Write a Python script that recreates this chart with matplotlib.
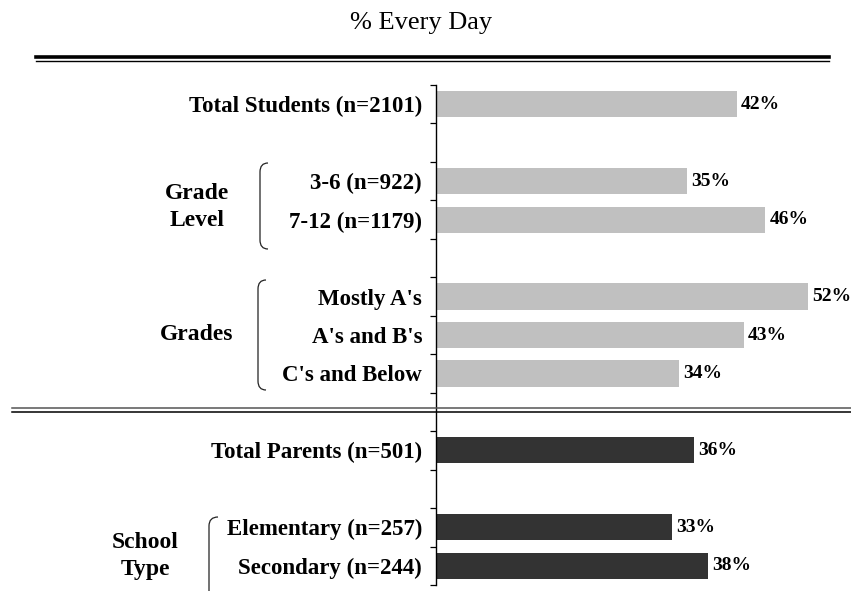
import matplotlib
matplotlib.use('Agg')
from matplotlib import pyplot as plt
from matplotlib.lines import Line2D
from matplotlib.path import Path
from matplotlib.patches import PathPatch

# data
student_labels = ['Total Students (n=2101)', '3-6 (n=922)', '7-12 (n=1179)',
                  "Mostly A's", "A's and B's", "C's and Below"]
student_values = [42, 35, 46, 52, 43, 34]
parent_labels = ['Total Parents (n=501)', 'Elementary (n=257)',
                 'Secondary (n=244)']
parent_values = [36, 33, 38]
groups = ['Grade\nLevel', 'Grades', 'School\nType']
title = '% Every Day'

W, H = 851, 591
plt.rcParams['font.family'] = ['Liberation Serif', 'DejaVu Serif']


def px(x, y):
    '''
    pixel position (from top-left) -> figure fraction
    '''
    return x / W, 1 - y / H


fig = plt.figure(figsize=(W / 100, H / 100), dpi=100)

# axes area: x 436..851, y 85..585 (pixels)
left, top = px(436, 85)
_, bottom = px(436, 585)
ax = fig.add_axes([left, bottom, (W - 436) / W, top - bottom])

student_slots = [0, 2, 3, 5, 6, 7]
parent_slots = [9, 11, 12]

ax.barh(student_slots, student_values, height=0.68, color='#c0c0c0')
ax.barh(parent_slots, parent_values, height=0.68, color='#333333')

for s, v in zip(student_slots + parent_slots, student_values + parent_values):
    ax.annotate('%d%%' % v, (v, s), xytext=(3, 0), textcoords='offset points',
                va='center', ha='left', fontsize=14, fontweight='bold')

ax.set_xlim(0, (W - 436) / 7.16)
ax.set_ylim(12.5, -0.5)

ax.set_yticks(student_slots + parent_slots)
ax.set_yticklabels(student_labels + parent_labels, fontsize=16.5,
                   fontweight='bold')
ax.set_yticks([i - 0.5 for i in range(14)], minor=True)
ax.tick_params(axis='y', which='major', length=0, pad=10)
ax.tick_params(axis='y', which='minor', length=4.5, width=0.9,
               direction='out')
ax.set_xticks([])
for sp in ['top', 'right', 'bottom']:
    ax.spines[sp].set_visible(False)
ax.spines['left'].set_linewidth(1.0)

# title and header rule
fig.text(*px(421, 23.5), title, ha='center', va='center', fontsize=19)
fig.add_artist(Line2D([36 / W, 829 / W], [px(0, 56.5)[1]] * 2,
                      color='black', lw=2.6))
fig.add_artist(Line2D([36 / W, 829 / W], [px(0, 60.8)[1]] * 2,
                      color='black', lw=1.0))

# separator between students and parents
fig.add_artist(Line2D([12 / W, 1], [px(0, 408)[1]] * 2, color='#555555',
                      lw=1.1))
fig.add_artist(Line2D([12 / W, 1], [px(0, 411.7)[1]] * 2, color='black',
                      lw=1.1))


def brace(xv, xe, y0, y1, r=9):
    verts = [px(xe, y0), px(xv, y0), px(xv, y0 + r),
             px(xv, y1 - r), px(xv, y1), px(xe, y1)]
    codes = [Path.MOVETO, Path.CURVE3, Path.CURVE3,
             Path.LINETO, Path.CURVE3, Path.CURVE3]
    fig.add_artist(PathPatch(Path(verts, codes), transform=fig.transFigure,
                             fill=False, lw=0.9, edgecolor='#222222'))


brace(260, 268, 163, 249)
brace(258, 266, 280, 390)
brace(209, 218, 517, 600)

for g, (x, y) in zip(groups, [(197, 207), (197, 335), (145, 556)]):
    fig.text(*px(x, y), g, ha='center', va='center', fontsize=17,
             fontweight='bold', linespacing=1.4)

plt.savefig('out.png', dpi=100)
